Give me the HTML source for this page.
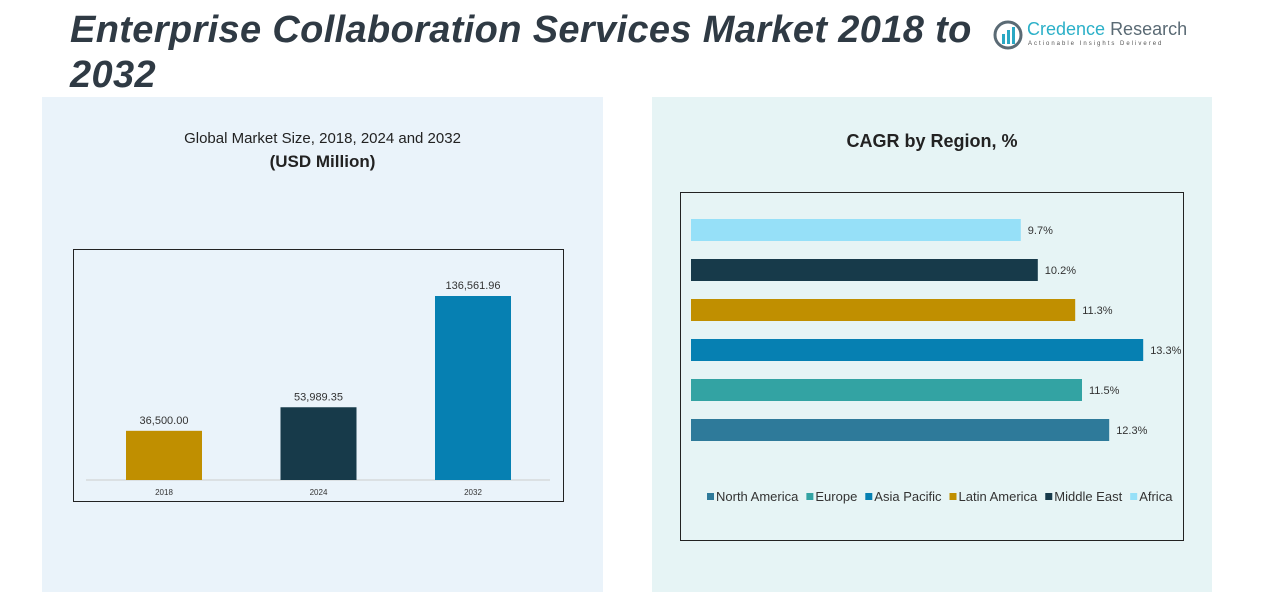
<!DOCTYPE html>
<html><head><meta charset="utf-8"><style>
body{margin:0;width:1270px;height:602px;background:#fff;font-family:"Liberation Sans",sans-serif;position:relative;overflow:hidden}
.abs{position:absolute}
</style></head><body>
<div class="abs" style="left:42px;top:97px;width:561px;height:495px;background:#eaf3fa"></div>
<div class="abs" style="left:652px;top:97px;width:560px;height:495px;background:#e6f4f5"></div>
<div class="abs" style="left:70px;top:8px;width:930px;font-size:38px;letter-spacing:0.35px;font-weight:bold;font-style:italic;color:#2f3a44;line-height:45px">Enterprise Collaboration Services Market 2018 to 2032</div>
<div class="abs" style="left:993px;top:18px;width:195px;height:34px">
<svg width="30" height="30" style="position:absolute;left:0;top:2px"><circle cx="15" cy="15" r="13" fill="none" stroke="#5a6a74" stroke-width="3"/><rect x="9" y="14" width="3" height="10" fill="#2aa8c4"/><rect x="14" y="10" width="3" height="14" fill="#2aa8c4"/><rect x="19" y="7" width="3" height="17" fill="#2aa8c4"/></svg>
<div class="abs" style="left:34px;top:1px;font-size:18px;color:#2bb0c8;white-space:nowrap">Credence <span style="color:#5a6a74">Research</span></div>
<div class="abs" style="left:35px;top:23px;font-size:6px;letter-spacing:2px;color:#555;white-space:nowrap">Actionable Insights Delivered</div>
</div>
<div class="abs" style="left:42px;top:130px;width:561px;text-align:center;font-size:15px;color:#222">Global Market Size, 2018, 2024 and 2032</div>
<div class="abs" style="left:42px;top:152px;width:561px;text-align:center;font-size:17px;font-weight:bold;color:#222">(USD Million)</div>
<div class="abs" style="left:652px;top:131px;width:560px;text-align:center;font-size:18px;font-weight:bold;color:#222">CAGR by Region, %</div>
<svg class="abs" style="left:0;top:0" width="1270" height="602" id="svg">
<rect x="73.5" y="249.5" width="490" height="252" fill="none" stroke="#222"/>
<rect x="680.5" y="192.5" width="503" height="348" fill="none" stroke="#222"/>
<line x1="86" y1="480" x2="550" y2="480" stroke="#ccc"/>
<g id="left"></g><g id="right"></g><g id="legend"></g>
</svg>
<script>
const years=["2018","2024","2032"];
const sizes=[36500.00,53989.35,136561.96];
const sizeLabels=["36,500.00","53,989.35","136,561.96"];
const yearColors=["#c08f00","#173a4a","#0680b2"];
const regions=["Africa","Middle East","Latin America","Asia Pacific","Europe","North America"];
const cagr=[9.7,10.2,11.3,13.3,11.5,12.3];
const regionColors=["#96e0f8","#173a4a","#c08f00","#0680b2","#33a3a3","#2e7a9a"];
const legendOrder=["North America","Europe","Asia Pacific","Latin America","Middle East","Africa"];
const NS="http://www.w3.org/2000/svg";
function mk(t,a,p){const e=document.createElementNS(NS,t);for(const k in a)e.setAttribute(k,a[k]);p.appendChild(e);return e;}
const yS=v=>480-v*184/136561.96;
const xB=i=>126+i*154.5;
const L=document.getElementById('left');
years.forEach((y,i)=>{
 const b=mk('rect',{x:xB(i),y:yS(sizes[i]),width:76,height:480-yS(sizes[i]),fill:yearColors[i]},L);
 
 
 const t=mk('text',{x:xB(i)+38,y:yS(sizes[i])-7,'text-anchor':'middle','font-size':11,fill:'#333'},L);t.textContent=sizeLabels[i];
 
 
 const x=mk('text',{x:xB(i)+38,y:495,'text-anchor':'middle','font-size':8,fill:'#333'},L);x.textContent=y;
 
 
});
const xS=v=>691+v*34;
const R=document.getElementById('right');
regions.forEach((r,i)=>{
 const cy=230+i*40;
 const b=mk('rect',{x:691,y:cy-11,width:xS(cagr[i])-691,height:22,fill:regionColors[i]},R);
 
 
 const t=mk('text',{x:xS(cagr[i])+7,y:cy+4,'font-size':11,fill:'#333'},R);t.textContent=cagr[i]+'%';
 
 
});
const G=document.getElementById('legend');
let lx=707;
legendOrder.forEach(r=>{
 const c=regionColors[regions.indexOf(r)];
 const s=mk('rect',{x:lx,y:493,width:7,height:7,fill:c},G);
 
 
 const t=mk('text',{x:lx+9,y:501,'font-size':13,fill:'#333'},G);t.textContent=r;
 
 
 lx+=9+t.getComputedTextLength()+8;
});
</script>
</body></html>
